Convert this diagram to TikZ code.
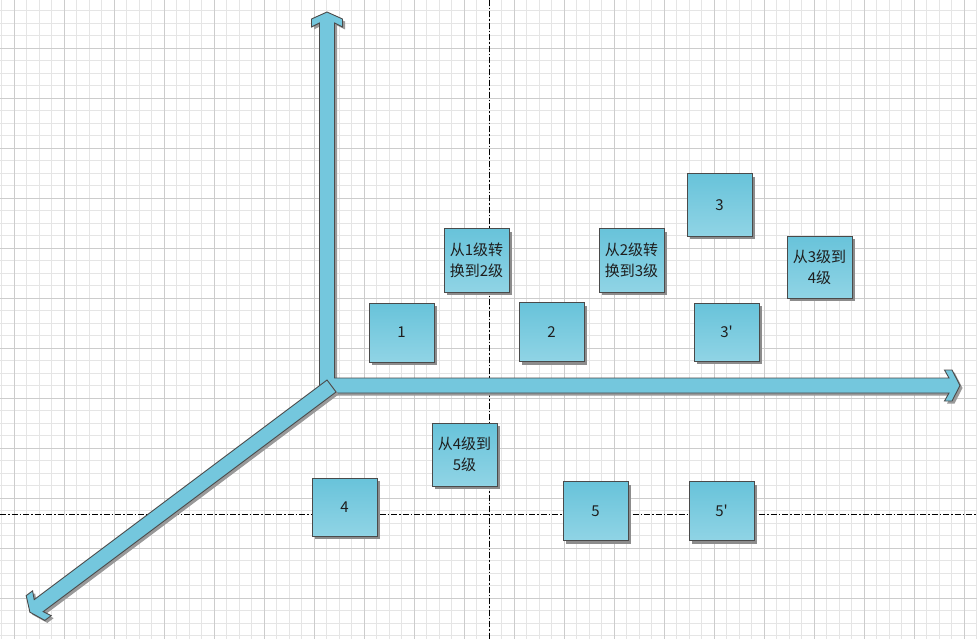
\documentclass[tikz,border=0pt]{standalone}
\usepackage{fontspec}
\setmainfont{Noto Sans CJK SC}
\newfontfamily\boxfont{Noto Sans CJK SC}
\usetikzlibrary{shadows}
\definecolor{axisblue}{HTML}{74C7DD}
\definecolor{edgegray}{HTML}{4A4A4A}
\definecolor{boxtop}{HTML}{68C3DA}
\definecolor{boxbot}{HTML}{90D4E5}
\definecolor{textdark}{HTML}{1E1E1E}
\begin{document}
\begin{tikzpicture}[x=1pt,y=-1pt,
  minorline/.style={draw=black!10, line width=0.7pt},
  majorline/.style={draw=black!20, line width=0.8pt},
  guide/.style={draw=black, line width=0.9pt, dash pattern=on 6pt off 2pt on 1.5pt off 2pt},
  axisbody/.style={fill=axisblue, draw=edgegray, line width=0.9pt, line join=miter},
  axisshadow/.style={fill=black!40, draw=none},
  box/.style={rectangle, draw=edgegray, line width=1pt, top color=boxtop, bottom color=boxbot,
    minimum width=65pt, minimum height=59pt, inner sep=0pt, outer sep=0pt, align=center,
    text=textdark, font=\boxfont\fontsize{15}{20.7}\selectfont,
    drop shadow={shadow xshift=3pt, shadow yshift=-3pt, fill=black!45, opacity=1}},
  tbox/.style={box, minimum height=63pt}]
% canvas
\fill[white] (0,0) rectangle (977,639);
\useasboundingbox (0,0) rectangle (977,639);
% grid
\foreach \i in {0,...,78} {\draw[minorline] ({1.5+12.5*\i},0) -- ({1.5+12.5*\i},639);}
\foreach \j in {0,...,51} {\draw[minorline] (0,{-1.7+12.5*\j}) -- (977,{-1.7+12.5*\j});}
\foreach \i in {0,...,19} {\draw[majorline] ({14+50*\i},0) -- ({14+50*\i},639);}
\foreach \j in {0,...,11} {\draw[majorline] (0,{48.3+50*\j}) -- (977,{48.3+50*\j});}
% guides
\draw[guide] (489,0) -- (489,639);
\draw[guide] (0,514) -- (977,514);
% axes: vertical + horizontal as one L-shaped block arrow
\coordinate (origin) at (331.5,386);
\begin{scope}[shift={(2.5,2.5)}]
\path[axisshadow] (319.5,393) -- (319.5,23) -- (311.5,27) -- (311.5,19) -- (327,12) -- (342.5,19) -- (342.5,27) -- (334.5,23) -- (334.5,378) -- (949,378) -- (944.5,370) -- (952,370) -- (960,385.5) -- (952,401) -- (944.5,401) -- (949,393) -- cycle;
\end{scope}
\path[axisbody] (319.5,393) -- (319.5,23) -- (311.5,27) -- (311.5,19) -- (327,12) -- (342.5,19) -- (342.5,27) -- (334.5,23) -- (334.5,378) -- (949,378) -- (944.5,370) -- (952,370) -- (960,385.5) -- (952,401) -- (944.5,401) -- (949,393) -- cycle;
% diagonal axis
\begin{scope}[shift={(2.5,2.5)}]
\path[axisshadow] (336,392) -- (43.2,611.6) -- (51.2,615.6) -- (44.8,620.4) -- (29.9,612.2) -- (26.2,595.6) -- (32.6,590.8) -- (34.2,599.6) -- (327,380) -- cycle;
\end{scope}
\path[axisbody] (336,392) -- (43.2,611.6) -- (51.2,615.6) -- (44.8,620.4) -- (29.9,612.2) -- (26.2,595.6) -- (32.6,590.8) -- (34.2,599.6) -- (327,380) -- cycle;
% boxes
\node[box] (b1) at (401.5,332.5) {1};
\node[tbox] (t12) at (476.5,260.5) {从1级转\\换到2级};
\node[box] (b2) at (551.5,332) {2};
\node[tbox] (t23) at (631.5,260.5) {从2级转\\换到3级};
\node[box, minimum height=62pt] (b3) at (719.5,205) {3};
\node[box, minimum height=62pt] (t34) at (819.5,267) {从3级到\\4级};
\node[box, minimum height=58pt] (b3p) at (726.5,332) {3'};
\node[tbox] (t45) at (464.5,454.5) {从4级到\\5级};
\node[box, minimum height=58pt] (b4) at (344.5,507) {4};
\node[box] (b5) at (595.5,511) {5};
\node[box] (b5p) at (721.5,511.3) {5'};
\end{tikzpicture}
\end{document}
